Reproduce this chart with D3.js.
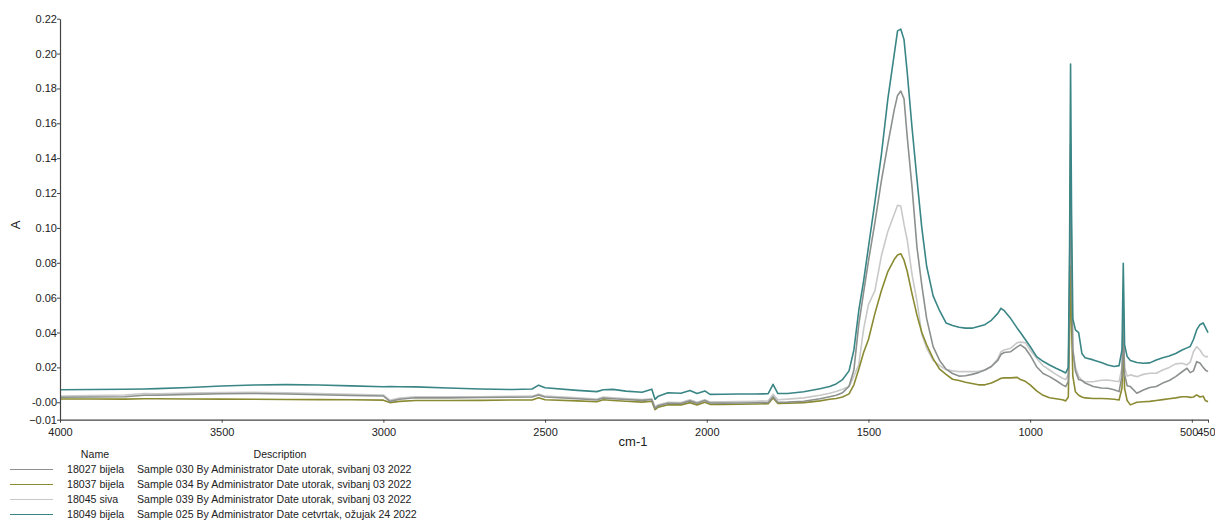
<!DOCTYPE html>
<html>
<head>
<meta charset="utf-8">
<script src="https://cdn.jsdelivr.net/npm/d3@7"></script>
<style>
body { margin:0; background:#fff; }
svg { font-family: "Liberation Sans", Arial, sans-serif; }
</style>
</head>
<body>
<svg id="chart"></svg>
<script>
// wavenumbers (cm-1) shared by all spectra
var waveNumbers = [
 4000,3900,3800,3740,3700,3600,3500,3400,3300,3200,3100,3000,2980,2950,2900,2800,2700,2600,2540,2520,2500,
 2400,2340,2320,2290,2250,2200,2170,2160,2150,2120,2080,2052,2030,2006,1990,1950,1900,1850,1810,
 1795,1780,1750,1700,1650,1620,1600,1580,1560,1545,1530,1515,1500,
 1480,1460,1440,1420,1410,1400,1390,1380,1365,1350,1335,1320,1300,
 1280,1260,1240,1220,1200,1180,1160,1140,1120,1100,1090,1080,1060,1040,1030,1015,1000,
 980,960,940,920,900,890,882,878,875,872,868,860,850,840,830,
 805,780,760,740,725,716,712,708,700,690,670,650,630,610,590,570,550,530,515,505,495,485,475,465,458,450
];

var abs18027 = [
 .0029,.0030,.0032,.0040,.0040,.0045,.0049,.0050,.0047,.0043,.0039,.0036,.0005,.0017,.0026,.0025,.0027,.0029,.0030,.0042,.0030,
 .0020,.0013,.0024,.0020,.0016,.0011,.0016,-.0034,-.0020,-.0006,-.0007,.0008,-.0006,.0010,-.0004,-.0005,-.0004,-.0003,-.0001,
 .0032,.0000,.0001,.0006,.0020,.0032,.0040,.0055,.0092,.0185,.0445,.0630,.0810,
 .1030,.1270,.1480,.1680,.1760,.1785,.1740,.1520,.1230,.0890,.0670,.0480,.0319,
 .0240,.0190,.0165,.0150,.0152,.0160,.0170,.0185,.0205,.0240,.0275,.0285,.0290,.0318,.0329,.0310,.0270,
 .0204,.0165,.0147,.0125,.0100,.0090,.0120,.0700,.1475,.0800,.0300,.0180,.0130,.0125,.0110,
 .0090,.0082,.0080,.0072,.0061,.0150,.0480,.0160,.0095,.0090,.0052,.0070,.0085,.0090,.0110,.0125,.0147,.0175,.0195,.0170,.0180,.0233,.0225,.0200,.0185,.0176
];

var abs18037 = [
 .0019,.0019,.0018,.0020,.0020,.0019,.0018,.0017,.0016,.0015,.0014,.0012,-.0002,.0005,.0010,.0010,.0011,.0013,.0013,.0026,.0014,
 .0008,.0003,.0014,.0010,.0006,.0001,.0006,-.0042,-.0028,-.0014,-.0015,-.0002,-.0015,.0000,-.0012,-.0012,-.0011,-.0010,-.0008,
 .0025,-.0007,-.0006,-.0002,.0008,.0017,.0022,.0030,.0048,.0100,.0190,.0285,.0360,
 .0510,.0640,.0750,.0820,.0845,.0852,.0815,.0750,.0620,.0500,.0400,.0330,.0250,
 .0190,.0160,.0132,.0125,.0115,.0108,.0100,.0100,.0110,.0128,.0138,.0140,.0140,.0143,.0130,.0120,.0100,
 .0065,.0040,.0026,.0020,.0014,.0008,.0030,.0400,.0780,.0450,.0150,.0060,.0040,.0030,.0025,
 .0022,.0022,.0020,.0017,.0013,.0080,.0330,.0080,.0010,-.0015,.0000,.0003,.0005,.0010,.0015,.0020,.0025,.0032,.0032,.0028,.0030,.0042,.0030,.0035,.0010,.0003
];

var abs18045 = [
 .0036,.0038,.0042,.0050,.0048,.0053,.0056,.0057,.0054,.0050,.0045,.0042,.0012,.0024,.0032,.0031,.0032,.0034,.0035,.0047,.0035,
 .0025,.0019,.0030,.0026,.0021,.0016,.0020,-.0028,-.0014,.0000,-.0001,.0014,.0000,.0015,.0002,.0002,.0004,.0006,.0009,
 .0046,.0014,.0018,.0025,.0040,.0052,.0062,.0075,.0090,.0150,.0215,.0420,.0560,
 .0640,.0840,.0980,.1080,.1130,.1125,.1020,.0930,.0730,.0580,.0390,.0310,.0240,
 .0210,.0188,.0180,.0176,.0176,.0176,.0178,.0185,.0205,.0250,.0290,.0300,.0310,.0342,.0345,.0342,.0300,
 .0252,.0210,.0185,.0160,.0138,.0130,.0160,.0600,.1100,.0650,.0300,.0200,.0150,.0125,.0118,
 .0118,.0126,.0128,.0122,.0118,.0200,.0420,.0200,.0150,.0157,.0147,.0160,.0166,.0166,.0185,.0200,.0220,.0224,.0214,.0230,.0290,.0319,.0300,.0270,.0262,.0262
];

var abs18049 = [
 .0072,.0073,.0075,.0076,.0078,.0085,.0093,.0099,.0101,.0099,.0094,.0089,.0090,.0089,.0088,.0082,.0076,.0073,.0076,.0098,.0083,
 .0068,.0061,.0072,.0074,.0064,.0057,.0075,.0017,.0035,.0055,.0052,.0068,.0050,.0065,.0045,.0046,.0047,.0047,.0049,
 .0103,.0050,.0050,.0060,.0078,.0090,.0105,.0130,.0180,.0300,.0525,.0695,.0890,
 .1150,.1420,.1740,.2000,.2130,.2140,.2080,.1890,.1570,.1280,.1000,.0780,.0610,
 .0525,.0455,.0440,.0430,.0425,.0425,.0435,.0445,.0470,.0510,.0539,.0525,.0480,.0425,.0400,.0360,.0320,
 .0262,.0235,.0214,.0195,.0178,.0168,.0200,.0900,.1940,.1100,.0480,.0415,.0400,.0280,.0255,
 .0243,.0228,.0214,.0205,.0210,.0300,.0797,.0330,.0262,.0240,.0228,.0224,.0226,.0243,.0255,.0265,.0280,.0300,.0312,.0320,.0360,.0415,.0445,.0455,.0430,.0400
];

var seriesNames = ["18027 bijela","18037 bijela","18045 siva","18049 bijela"];
var seriesDescriptions = [
 "Sample 030 By Administrator Date utorak, svibanj 03 2022",
 "Sample 034 By Administrator Date utorak, svibanj 03 2022",
 "Sample 039 By Administrator Date utorak, svibanj 03 2022",
 "Sample 025 By Administrator Date cetvrtak, ožujak 24 2022"
];
var seriesColors = ["#8c918d","#8a8a32","#c9c9c9","#3a8585"];

var xTicks = [4000,3500,3000,2500,2000,1500,1000,500,450];
var yTicks = [-0.01,0,0.02,0.04,0.06,0.08,0.10,0.12,0.14,0.16,0.18,0.20,0.22];

var initGraph = function()
{
    var screen = {width:1215,height:522};
    var plot = {left:60,right:1208,top:18.7,bottom:419.7};

    var svg = d3.select("#chart")
        .attr("width",screen.width)
        .attr("height",screen.height);

    var xScale = d3.scaleLinear()
        .domain([4000,450])
        .range([plot.left,plot.right]);

    var yScale = d3.scaleLinear()
        .domain([-0.01,0.22])
        .range([plot.bottom,plot.top]);

    var spectra = [abs18027,abs18037,abs18045,abs18049].map(function(vals,i)
    {
        return {
            name:seriesNames[i],
            color:seriesColors[i],
            points:waveNumbers.map(function(w,j){return [w,vals[j]];})
        };
    });

    var line = d3.line()
        .x(function(d){return xScale(d[0]);})
        .y(function(d){return yScale(d[1]);});

    // lighter curves first so teal sits on top
    var drawOrder = [2,1,0,3];
    svg.append("g")
        .selectAll("path")
        .data(drawOrder.map(function(i){return spectra[i];}))
        .enter()
        .append("path")
        .attr("d",function(s){return line(s.points);})
        .attr("fill","none")
        .attr("stroke",function(s){return s.color;})
        .attr("stroke-width",1.6)
        .attr("stroke-linejoin","round");

    var xAxis = d3.axisBottom(xScale)
        .tickValues(xTicks)
        .tickFormat(d3.format("d"))
        .tickSize(3)
        .tickSizeOuter(0);

    var yAxis = d3.axisLeft(yScale)
        .tickValues(yTicks)
        .tickFormat(function(d){return d===0 ? "-0.00" : d3.format(".2f")(d);})
        .tickSize(3)
        .tickSizeOuter(0);

    var gx = svg.append("g")
        .attr("transform","translate(0,"+plot.bottom+")")
        .call(xAxis);
    var gy = svg.append("g")
        .attr("transform","translate("+plot.left+",0)")
        .call(yAxis);

    [gx,gy].forEach(function(g)
    {
        g.select(".domain").attr("stroke","#444").attr("stroke-width",1.2);
        g.selectAll(".tick line").attr("stroke","#444");
        g.selectAll(".tick text")
            .attr("fill","#222")
            .style("font-size","11px")
            .style("font-family","'Liberation Sans', Arial, sans-serif");
    });
    gx.selectAll(".tick text").attr("dy","0.9em");
    gy.selectAll(".tick text").attr("x",-3);

    // the last two labels sit side by side at the right edge, like "500450"
    gx.selectAll(".tick text")
        .filter(function(d){return d===500;})
        .attr("text-anchor","end")
        .attr("dx",6);
    gx.selectAll(".tick text")
        .filter(function(d){return d===450;})
        .attr("text-anchor","end")
        .attr("dx",7);

    svg.append("text")
        .attr("x",633)
        .attr("y",446)
        .attr("text-anchor","middle")
        .style("font-size","13px")
        .attr("fill","#222")
        .text("cm-1");

    svg.append("text")
        .attr("transform","translate(20,225) rotate(-90)")
        .attr("text-anchor","middle")
        .style("font-size","13px")
        .attr("fill","#222")
        .text("A");

    // legend table
    var legend = svg.append("g").style("font-size","10.6px").attr("fill","#222");
    legend.append("text").attr("x",95).attr("y",458).attr("text-anchor","middle").text("Name");
    legend.append("text").attr("x",280).attr("y",458).attr("text-anchor","middle").text("Description");

    var rows = legend.selectAll("g.row")
        .data(spectra)
        .enter()
        .append("g")
        .attr("class","row")
        .attr("transform",function(s,i){return "translate(0,"+(469.5+i*15)+")";});

    rows.append("line")
        .attr("x1",10).attr("x2",53)
        .attr("y1",0).attr("y2",0)
        .attr("stroke",function(s){return s.color;})
        .attr("stroke-width",1);
    rows.append("text")
        .attr("x",67).attr("y",3.5)
        .text(function(s){return s.name;});
    rows.append("text")
        .attr("x",137).attr("y",3.5)
        .text(function(s,i){return seriesDescriptions[i];});
}

initGraph();
</script>
</body>
</html>
